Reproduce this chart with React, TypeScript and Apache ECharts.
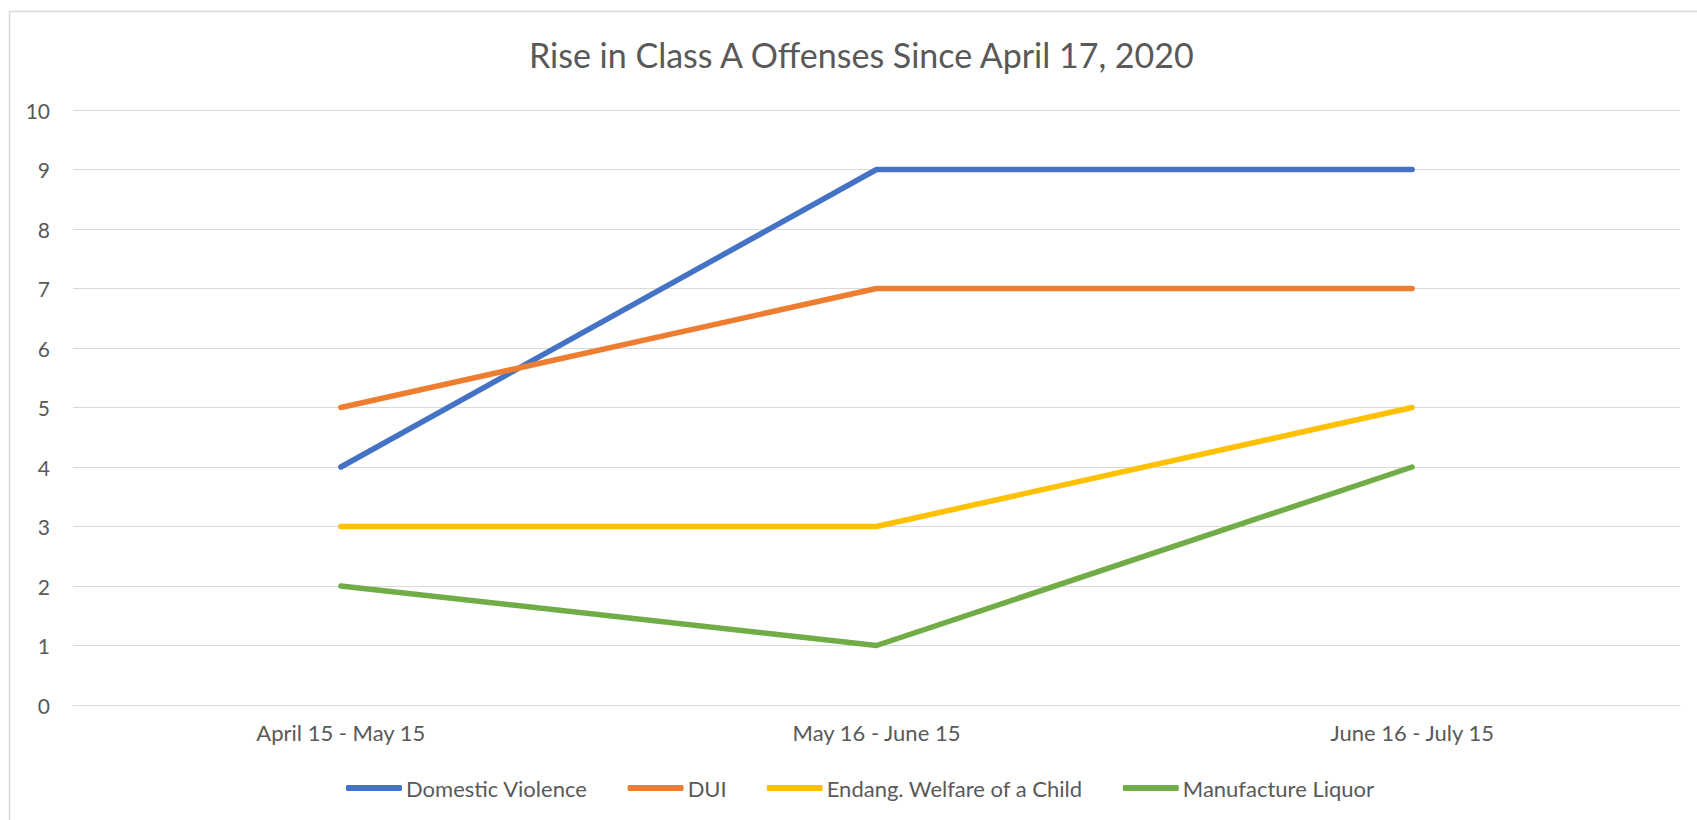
import React, { useEffect, useRef } from "react";
import * as echarts from "echarts";

const categories = ["April 15 - May 15", "May 16 - June 15", "June 16 - July 15"];
const domesticViolence = [4, 9, 9];
const dui = [5, 7, 7];
const endangWelfare = [3, 3, 5];
const manufactureLiquor = [2, 1, 4];
const seriesNames = ["Domestic Violence", "DUI", "Endang. Welfare of a Child", "Manufacture Liquor"];
const seriesColors = ["#4472C4", "#ED7D31", "#FFC000", "#70AD47"];
const titleText = "Rise in Class A Offenses Since April 17, 2020";

const FONT = "Lato, 'Liberation Sans', sans-serif";
const TEXT = "#595959";

export default function App() {
  const ref = useRef<HTMLDivElement>(null);
  useEffect(() => {
    if (!ref.current) return;
    const chart = echarts.init(ref.current, undefined, { renderer: "svg" });
    const values = [domesticViolence, dui, endangWelfare, manufactureLiquor];
    chart.setOption({
      animation: false,
      backgroundColor: "#ffffff",
      title: {
        text: titleText,
        left: 524,
        top: 32,
        textStyle: { fontFamily: FONT, fontSize: 34, fontWeight: "normal", color: TEXT },
      },
      grid: { left: 73, right: 17, top: 110, bottom: 115, containLabel: false },
      legend: {
        left: 346,
        top: 777,
        padding: 0,
        itemWidth: 56,
        itemHeight: 6,
        itemGap: 40,
        icon: "roundRect",
        data: seriesNames,
        textStyle: { fontFamily: FONT, fontSize: 22, color: TEXT, padding: [0, 0, 0, -1] },
      },
      xAxis: {
        type: "category",
        data: categories,
        boundaryGap: true,
        axisLine: { show: true, lineStyle: { color: "#D9D9D9", width: 1 } },
        axisTick: { show: false },
        axisLabel: { fontFamily: FONT, fontSize: 22, color: TEXT, margin: 16 },
      },
      yAxis: {
        type: "value",
        min: 0,
        max: 10,
        interval: 1,
        axisLine: { show: false },
        axisTick: { show: false },
        splitLine: { lineStyle: { color: "#D9D9D9", width: 1 } },
        axisLabel: { fontFamily: FONT, fontSize: 21, color: TEXT, margin: 23 },
      },
      series: seriesNames.map((name, i) => ({
        name,
        type: "line",
        data: values[i],
        symbol: "none",
        color: seriesColors[i],
        lineStyle: { width: 5.5, color: seriesColors[i], cap: "round", join: "round" },
        itemStyle: { color: seriesColors[i] },
      })),
      graphic: [
        {
          type: "rect",
          shape: { x: 9.5, y: 11.5, width: 2000, height: 2000 },
          style: { fill: "none", stroke: "#D9D9D9", lineWidth: 1.5 },
          silent: true,
          z: 100,
        },
      ],
    });
    return () => chart.dispose();
  }, []);
  return (
    <div
      ref={ref}
      style={{ position: "fixed", left: 0, top: 0, width: 1697, height: 820 }}
    />
  );
}
